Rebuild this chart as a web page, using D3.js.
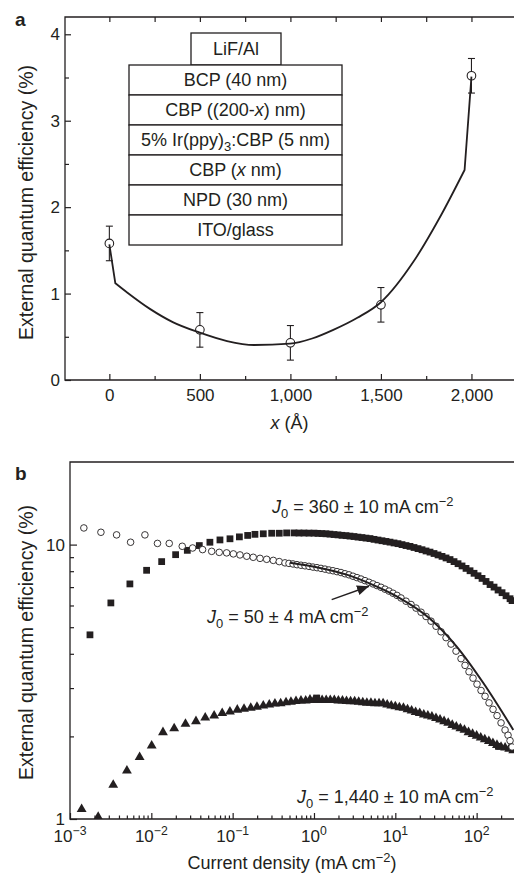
<!DOCTYPE html>
<html>
<head>
<meta charset="utf-8">
<script src="https://cdn.jsdelivr.net/npm/d3@7"></script>
<style>
  body { margin: 0; background: #fff; }
  svg { display: block; font-family: "Liberation Sans", Arial, sans-serif; }
</style>
</head>
<body>
<svg id="chart" width="514" height="873"></svg>
<script>
// ---------- panel a data ----------
const thickness = [0, 500, 1000, 1500, 2000];
const eqeA = [1.58, 0.58, 0.43, 0.87, 3.52];
const errA = [0.2, 0.2, 0.2, 0.2, 0.2];
const fitAX = [0, 33, 100, 226, 350, 496, 650, 800, 998, 1120, 1237, 1370, 1500, 1680, 1825, 1962, 2000];
const fitAY = [1.57, 1.12, 1.01, 0.82, 0.67, 0.55, 0.45, 0.405, 0.42, 0.48, 0.58, 0.72, 0.90, 1.37, 1.88, 2.43, 3.51];
const layers = ['BCP (40 nm)', 'CBP ((200-*x*) nm)', '5% Ir(ppy)_3:CBP (5 nm)', 'CBP (*x* nm)', 'NPD (30 nm)', 'ITO/glass'];
const cathode = 'LiF/Al';
const aTicksX = [0, 500, 1000, 1500, 2000];
const aMinorX = [250, 750, 1250, 1750];
const aTopX = [0, 250, 500, 750, 1000, 1250, 1500, 1750, 2000];
const aTicksY = [0, 1, 2, 3, 4];
const aMinorY = [0.5, 1.5, 2.5, 3.5];

// ---------- panel b data ----------
// J0 = 360 (filled squares)
const sqX = [0.00176, 0.00318, 0.00545, 0.00875, 0.0134, 0.0199, 0.0277, 0.0389, 0.0525, 0.0698, 0.0927, 0.121, 0.153, 0.188, 0.238, 0.302, 0.374, 0.461,
  0.568, 0.654, 0.753, 0.868, 1.0, 1.12, 1.254, 1.404, 1.573, 1.762, 1.973, 2.21, 2.475, 2.772, 3.105, 3.477, 3.894, 4.361, 4.885, 5.47, 6.126, 6.861, 7.684, 8.606, 9.638,
  10.79, 12.09, 13.54, 15.16, 16.98, 19.02, 21.3, 23.86, 26.72, 29.92, 33.51, 37.53, 42.04, 47.08, 52.72, 59.05, 66.13, 74.07, 82.95, 92.9,
  104, 116.5, 130.5, 146.2, 163.7, 183.4, 205.3, 229.9, 257.5, 272.5];
const sqY = [4.69, 6.13, 7.19, 8.06, 8.67, 9.19, 9.53, 9.92, 10.2, 10.4, 10.5, 10.67, 10.8, 10.9, 10.95, 11.0, 11.0, 11.03,
  11.03, 11.02, 11.02, 11.01, 11.01, 10.99, 10.97, 10.95, 10.92, 10.88, 10.85, 10.81, 10.78, 10.74, 10.70, 10.65, 10.61, 10.56, 10.52, 10.45, 10.39, 10.33, 10.27, 10.21, 10.14,
  10.08, 10.0, 9.92, 9.85, 9.76, 9.67, 9.58, 9.48, 9.39, 9.28, 9.17, 9.06, 8.94, 8.82, 8.67, 8.52, 8.36, 8.19, 8.03, 7.86,
  7.70, 7.53, 7.34, 7.15, 7.00, 6.83, 6.68, 6.51, 6.35, 6.25];
// J0 = 1,440 (filled triangles)
const triX = [0.00139, 0.00222, 0.0034, 0.00501, 0.00718, 0.0101, 0.0139, 0.0191, 0.0263, 0.0354, 0.046, 0.0592, 0.0744, 0.0926, 0.114, 0.138, 0.167, 0.199, 0.238, 0.282, 0.331, 0.389, 0.453, 0.521, 0.601, 0.692, 0.791, 0.893,
  1.0, 1.122, 1.259, 1.413, 1.585, 1.778, 1.995, 2.239, 2.512, 2.818, 3.162, 3.548, 3.981, 4.467, 5.012, 5.623, 6.31, 7.079, 7.943, 8.913,
  10.0, 11.22, 12.59, 14.13, 15.85, 17.78, 19.95, 22.39, 25.12, 28.18, 31.62, 35.48, 39.81, 44.67, 50.12, 56.23, 63.1, 70.79, 79.43, 89.13,
  100, 112.2, 125.9, 141.3, 158.5, 177.8, 199.5, 223.9, 251.2, 281.8];
const triY = [1.085, 1.017, 1.33, 1.50, 1.68, 1.85, 2.07, 2.14, 2.22, 2.27, 2.34, 2.38, 2.43, 2.46, 2.50, 2.52, 2.54, 2.56, 2.59, 2.61, 2.63, 2.64, 2.66, 2.67, 2.69, 2.70, 2.70, 2.72,
  2.71, 2.71, 2.71, 2.71, 2.71, 2.71, 2.70, 2.70, 2.69, 2.68, 2.68, 2.67, 2.66, 2.65, 2.65, 2.64, 2.64, 2.64, 2.61, 2.59,
  2.57, 2.55, 2.54, 2.51, 2.48, 2.45, 2.43, 2.40, 2.38, 2.36, 2.33, 2.30, 2.27, 2.24, 2.20, 2.17, 2.14, 2.11, 2.07, 2.04,
  2.01, 1.98, 1.95, 1.92, 1.89, 1.86, 1.83, 1.82, 1.80, 1.78];
const extraSqX = [1.08, 185];
const extraSqY = [2.76, 1.84];
// J0 = 50 (open circles)
const circX = [0.00148, 0.0024, 0.00374, 0.00556, 0.00834, 0.0119, 0.0166, 0.024, 0.0322, 0.0427, 0.0552, 0.0684, 0.0843, 0.102, 0.123, 0.149, 0.179, 0.217, 0.262, 0.316, 0.374, 0.44,
  0.493, 0.552, 0.618, 0.692, 0.775, 0.868, 0.972, 1.089, 1.219, 1.366, 1.529, 1.713, 1.918, 2.148, 2.406, 2.695, 3.018, 3.38, 3.786, 4.24, 4.749, 5.318, 5.956, 6.671, 7.471, 8.367, 9.37,
  10.49, 11.75, 13.54, 15.6, 17.97, 20.71, 23.86, 27.49, 31.67, 36.49, 42.04, 48.43, 55.8, 64.29, 72.0, 80.6, 90.3,
  101.1, 113.3, 126.9, 142.1, 159.1, 178.2, 199.6, 223.6, 243.3, 257.5, 272.5];
const circY = [11.5, 11.09, 10.85, 10.2, 10.85, 10.1, 10.1, 9.86, 9.72, 9.59, 9.45, 9.37, 9.33, 9.25, 9.17, 9.07, 8.99, 8.91, 8.84, 8.76, 8.67, 8.58,
  8.54, 8.50, 8.45, 8.41, 8.37, 8.33, 8.28, 8.24, 8.19, 8.14, 8.08, 8.03, 7.97, 7.91, 7.83, 7.76, 7.67, 7.58, 7.49, 7.39, 7.29, 7.19, 7.09, 6.99, 6.88, 6.77, 6.65,
  6.53, 6.39, 6.22, 6.05, 5.87, 5.67, 5.47, 5.26, 5.04, 4.81, 4.58, 4.34, 4.09, 3.84, 3.63, 3.44, 3.26,
  3.10, 2.94, 2.80, 2.65, 2.51, 2.38, 2.24, 2.11, 2.02, 1.93, 1.83];
// fit through the J0 = 50 data
const fitBX = [0.507, 1.185, 2.525, 4.885, 10.4, 26.72, 56.9, 120.9, 282.8];
const fitBY = [8.58, 8.22, 7.77, 7.21, 6.48, 5.37, 4.25, 3.13, 2.11];
const bTicksX = [1e-3, 1e-2, 1e-1, 1, 10, 100];
const bLabelsX = ['10^−3', '10^−2', '10^−1', '10^0', '10^1', '10^2'];
const bTicksY = [1, 10];
const bMinorY = [2, 3, 4, 5, 6, 7, 8, 9];

const ink = '#231f20';
const svg = d3.select('#chart');

// text with *italic*, _sub and ^super pieces
function rich(text, str, fs) {
    let off = 0;
    str.split(/(\*[^*]+\*|_\S|\^[−0-9]+)/).filter(s => s).forEach(p => {
        let target = 0, s = p;
        const t = text.append('tspan');
        if (p[0] === '*') {
            s = p.slice(1, -1);
            t.attr('font-style', 'italic');
        } else if (p[0] === '_') {
            s = p.slice(1);
            target = fs * 0.3;
            t.attr('font-size', fs * 0.72);
        } else if (p[0] === '^') {
            s = p.slice(1);
            target = -fs * 0.4;
            t.attr('font-size', fs * 0.72);
        }
        if (target !== off) t.attr('dy', target - off);
        t.text(s);
        off = target;
    });
}

function styleAxis(g, axis) {
    g.call(axis).attr('font-family', null).attr('font-size', 17).attr('color', ink);
    g.select('.domain').remove();
    g.selectAll('.tick line').attr('stroke-width', 1.2);
}

// ================= panel a =================
const xA = d3.scaleLinear().domain([-245, 2235]).range([65, 514]);
const yA = d3.scaleLinear().domain([0, 4.2]).range([380, 17]);
const ga = svg.append('g');

ga.append('path')
    .attr('d', `M${xA.range()[1]},${yA.range()[1]}H${xA.range()[0]}V${yA.range()[0]}H${xA.range()[1]}`)
    .attr('fill', 'none').attr('stroke', ink).attr('stroke-width', 1.3);

styleAxis(ga.append('g').attr('transform', `translate(0,${yA(0)})`),
    d3.axisBottom(xA).tickValues(aTicksX).tickSize(-6).tickPadding(9).tickFormat(d3.format(',')));
styleAxis(ga.append('g').attr('transform', `translate(0,${yA(0)})`),
    d3.axisBottom(xA).tickValues(aMinorX).tickSize(-4).tickFormat(''));
styleAxis(ga.append('g').attr('transform', `translate(0,${yA(4.2)})`),
    d3.axisTop(xA).tickValues(aTopX).tickSize(-5).tickFormat(''));
styleAxis(ga.append('g').attr('transform', `translate(${xA(-245)},0)`),
    d3.axisLeft(yA).tickValues(aTicksY).tickSize(-6).tickPadding(5).tickFormat(d3.format('d')));
styleAxis(ga.append('g').attr('transform', `translate(${xA(-245)},0)`),
    d3.axisLeft(yA).tickValues(aMinorY).tickSize(-4).tickFormat(''));

// device stack
const stack = ga.append('g');
const sx0 = 129, sx1 = 342, sy0 = 65, rowH = 30;
stack.append('rect').attr('x', 191).attr('y', 33).attr('width', 90).attr('height', sy0 - 33)
    .attr('fill', '#fff').attr('stroke', ink).attr('stroke-width', 1.3);
stack.append('text').attr('x', 236).attr('y', 33 + 22).attr('text-anchor', 'middle')
    .attr('font-size', 18).attr('fill', ink).text(cathode);
layers.forEach((l, i) => {
    stack.append('rect').attr('x', sx0).attr('y', sy0 + i * rowH).attr('width', sx1 - sx0).attr('height', rowH)
        .attr('fill', '#fff').attr('stroke', ink).attr('stroke-width', 1.3);
    const t = stack.append('text').attr('x', (sx0 + sx1) / 2).attr('y', sy0 + i * rowH + 21)
        .attr('text-anchor', 'middle').attr('font-size', 18).attr('fill', ink);
    rich(t, l, 18);
});

// error bars, points, fit
const ptsA = d3.zip(thickness, eqeA, errA);
const eb = ga.append('g').attr('stroke', ink).attr('stroke-width', 1.1);
ptsA.forEach(([x, y, e]) => {
    eb.append('line').attr('x1', xA(x)).attr('x2', xA(x)).attr('y1', yA(y + e)).attr('y2', yA(y - e));
    [y + e, y - e].forEach(v => eb.append('line').attr('x1', xA(x) - 3.5).attr('x2', xA(x) + 3.5).attr('y1', yA(v)).attr('y2', yA(v)));
});
ga.append('g').selectAll('circle').data(ptsA).join('circle')
    .attr('cx', d => xA(d[0])).attr('cy', d => yA(d[1])).attr('r', 4.3)
    .attr('fill', '#fff').attr('stroke', ink).attr('stroke-width', 1.1);

// fit: straight at both ends, smooth in between
const fitA = d3.zip(fitAX, fitAY);
const n = fitA.length;
const lineA = d3.line().x(d => xA(d[0])).y(d => yA(d[1]));
const smoothA = lineA.curve(d3.curveMonotoneX)(fitA.slice(1, n - 1));
const pathA = `M${xA(fitA[0][0])},${yA(fitA[0][1])}L${smoothA.slice(1)}L${xA(fitA[n - 1][0])},${yA(fitA[n - 1][1])}`;
ga.append('path').attr('d', pathA)
    .attr('fill', 'none').attr('stroke', ink).attr('stroke-width', 1.8);

ga.append('text').attr('x', 15).attr('y', 26).attr('font-size', 19).attr('font-weight', 'bold').attr('fill', ink).text('a');
const xtA = ga.append('text').attr('x', (xA.range()[0] + xA.range()[1]) / 2).attr('y', 429)
    .attr('text-anchor', 'middle').attr('font-size', 18).attr('fill', ink);
rich(xtA, '*x* (Å)', 18);
ga.append('text').attr('transform', `translate(33,${(yA.range()[0] + yA.range()[1]) / 2 + 4}) rotate(-90)`)
    .attr('text-anchor', 'middle').attr('font-size', 19.5).attr('fill', ink).text('External quantum efficiency (%)');

// ================= panel b =================
const xB = d3.scaleLog().domain([1e-3, 288]).range([70, 514]);
const yB = d3.scaleLog().domain([1, 20]).range([819, 462]);
const gb = svg.append('g');

gb.append('path')
    .attr('d', `M${xB.range()[1]},${yB.range()[1]}H${xB.range()[0]}V${yB.range()[0]}H${xB.range()[1]}`)
    .attr('fill', 'none').attr('stroke', ink).attr('stroke-width', 1.3);

const bMinorX = bTicksX.flatMap(d => [2, 3, 4, 5, 6, 7, 8, 9].map(m => d * m)).filter(v => v < 288);
styleAxis(gb.append('g').attr('transform', `translate(0,${yB(1)})`),
    d3.axisBottom(xB).tickValues(bTicksX).tickSize(-6).tickFormat(''));
styleAxis(gb.append('g').attr('transform', `translate(0,${yB(1)})`),
    d3.axisBottom(xB).tickValues(bMinorX).tickSize(-3.5).tickFormat(''));
bTicksX.forEach((v, i) => {
    const t = gb.append('text').attr('x', xB(v)).attr('y', 842).attr('text-anchor', 'middle')
        .attr('font-size', 17).attr('fill', ink);
    rich(t, bLabelsX[i], 17);
});
styleAxis(gb.append('g').attr('transform', `translate(${xB(1e-3)},0)`),
    d3.axisLeft(yB).tickValues(bTicksY).tickSize(-7).tickPadding(5).tickFormat(d3.format('d')));
styleAxis(gb.append('g').attr('transform', `translate(${xB(1e-3)},0)`),
    d3.axisLeft(yB).tickValues(bMinorY).tickSize(-4).tickFormat(''));

svg.append('defs').append('clipPath').attr('id', 'clipB').append('rect')
    .attr('x', 70).attr('y', 462).attr('width', 444).attr('height', 357);
const plot = gb.append('g').attr('clip-path', 'url(#clipB)');

const square = d3.symbol(d3.symbolSquare, 46);
const tri = d3.symbol(d3.symbolTriangle, 42);
plot.append('g').selectAll('path').data(d3.zip(sqX, sqY)).join('path')
    .attr('transform', d => `translate(${xB(d[0])},${yB(d[1])})`).attr('d', square).attr('fill', ink);
plot.append('g').selectAll('path').data(d3.zip(triX, triY)).join('path')
    .attr('transform', d => `translate(${xB(d[0])},${yB(d[1])})`).attr('d', tri).attr('fill', ink);
plot.append('g').selectAll('path').data(d3.zip(extraSqX, extraSqY)).join('path')
    .attr('transform', d => `translate(${xB(d[0])},${yB(d[1])})`).attr('d', square).attr('fill', ink);
plot.append('g').selectAll('circle').data(d3.zip(circX, circY)).join('circle')
    .attr('cx', d => xB(d[0])).attr('cy', d => yB(d[1])).attr('r', 3.3)
    .attr('fill', '#fff').attr('stroke', ink).attr('stroke-width', 0.9);
plot.append('path').datum(d3.zip(fitBX, fitBY))
    .attr('d', d3.line().x(d => xB(d[0])).y(d => yB(d[1])).curve(d3.curveMonotoneX))
    .attr('fill', 'none').attr('stroke', ink).attr('stroke-width', 2);

// arrow to the fit
svg.select('defs').append('marker').attr('id', 'head').attr('viewBox', '0 0 12 10')
    .attr('refX', 12).attr('refY', 5).attr('markerWidth', 12).attr('markerHeight', 10)
    .attr('markerUnits', 'userSpaceOnUse').attr('orient', 'auto')
    .append('path').attr('d', 'M0,0L12,5L0,10Z').attr('fill', ink);
gb.append('line')
    .attr('x1', xB(1.65)).attr('y1', yB(6.3)).attr('x2', xB(4.75)).attr('y2', yB(7.05))
    .attr('stroke', ink).attr('stroke-width', 1.5).attr('marker-end', 'url(#head)');

[['*J*_0 = 360 ± 10 mA cm^−2', 272, 513],
 ['*J*_0 = 50 ± 4 mA cm^−2', 207, 623],
 ['*J*_0 = 1,440 ± 10 mA cm^−2', 297, 803]].forEach(([s, x, y]) => {
    const t = gb.append('text').attr('x', x).attr('y', y).attr('font-size', 18).attr('fill', ink);
    rich(t, s, 18);
});

gb.append('text').attr('x', 15).attr('y', 480).attr('font-size', 19).attr('font-weight', 'bold').attr('fill', ink).text('b');
const xtB = gb.append('text').attr('x', (xB.range()[0] + xB.range()[1]) / 2).attr('y', 869)
    .attr('text-anchor', 'middle').attr('font-size', 18).attr('fill', ink);
rich(xtB, 'Current density (mA cm^−2)', 18);
gb.append('text').attr('transform', `translate(33,${(yB.range()[0] + yB.range()[1]) / 2 + 2}) rotate(-90)`)
    .attr('text-anchor', 'middle').attr('font-size', 19.5).attr('fill', ink).text('External quantum efficiency (%)');
</script>
</body>
</html>
